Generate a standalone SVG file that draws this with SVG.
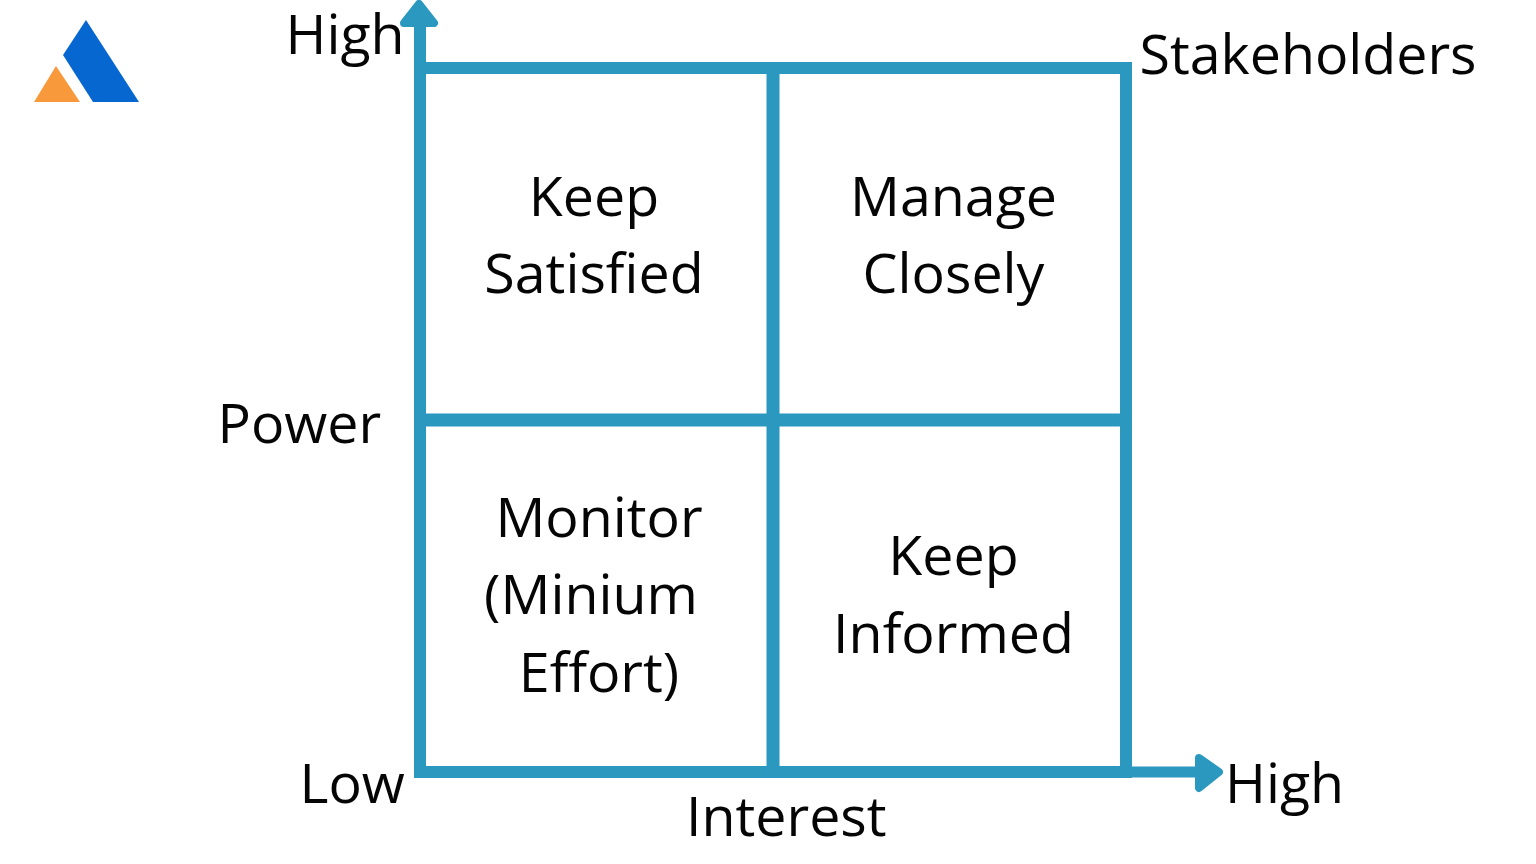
<svg xmlns="http://www.w3.org/2000/svg" width="1536" height="864" viewBox="0 0 1536 864">
<style>
text{font-family:"Open Sans","Noto Sans",sans-serif;font-size:55.5px;fill:#050505}
.m{text-anchor:middle}
.l{fill:none;stroke:#2b98c0;stroke-width:12}
.c{stroke-width:13}
.s{stroke-width:11}
.a{fill:#2b98c0;stroke:#2b98c0;stroke-width:8;stroke-linejoin:round}
</style>
<rect width="1536" height="864" fill="#fff"/>
<g id="logo">
<polygon points="86,20 139,102 93,102 63,55" fill="#0667d0"/>
<polygon points="56,66 80,102 34,102" fill="#f89a3c"/>
</g>
<g id="connectors">
<path class="l" d="M420 772V20M414 68H1126V772M414 772H1132"/>
<path class="l c" d="M773 68V778M420 420H1132"/>
<path class="l s" d="M1126 772H1200"/>
<polygon class="a" points="419,4 434,23 404,23"/>
<polygon class="a" points="1199,758 1219,772 1199,788"/>
</g>
<g id="axis-labels">
<text x="285.500" y="54">High</text>
<text x="1139.500" y="74">Stakeholders</text>
<text x="217.500" y="443">Power</text>
<text x="299.500" y="803">Low</text>
<text x="1225" y="802.500">High</text>
<text x="686" y="835.500">Interest</text>
</g>
<g id="keep-satisfied"><text class="m" x="594" y="216">Keep</text><text class="m" x="594" y="293">Satisfied</text></g>
<g id="manage-closely"><text class="m" x="953.500" y="216">Manage</text><text class="m" x="953.500" y="293">Closely</text></g>
<g id="monitor"><text class="m" x="599" y="536.500">Monitor</text><text class="m" x="591" y="614">(Minium</text><text class="m" x="599" y="691.500">Effort)</text></g>
<g id="keep-informed"><text class="m" x="953.500" y="575">Keep</text><text class="m" x="953.500" y="652.500">Informed</text></g>
</svg>
